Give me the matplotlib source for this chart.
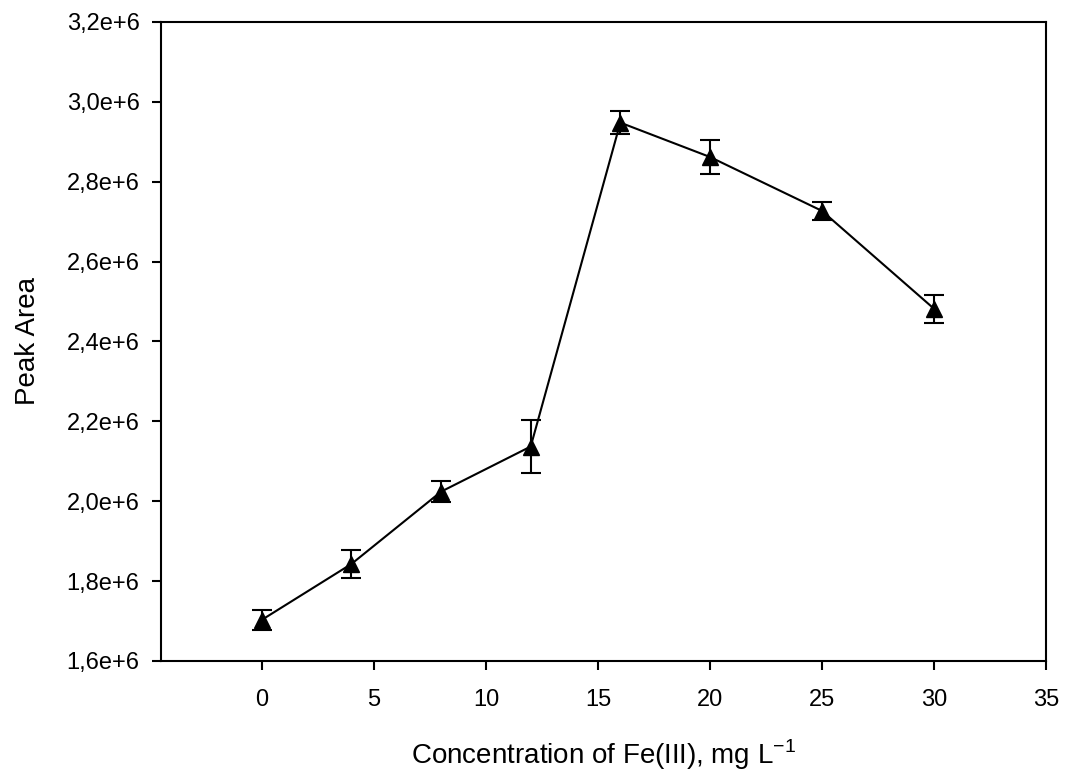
import matplotlib
matplotlib.use('Agg')
import matplotlib.pyplot as plt
from matplotlib.ticker import FuncFormatter, MultipleLocator

plt.rcParams['font.family'] = ['Liberation Sans', 'DejaVu Sans']

# concentration of Fe(III), mg/L
conc = [0, 4, 8, 12, 16, 20, 25, 30]
# peak area and its error
peak_area = [1.703e6, 1.843e6, 2.024e6, 2.137e6, 2.948e6, 2.862e6, 2.727e6, 2.482e6]
peak_err = [0.025e6, 0.035e6, 0.027e6, 0.066e6, 0.029e6, 0.042e6, 0.023e6, 0.035e6]


def sci_comma(v, pos):
    return ('%.1fe+6' % (v / 1e6)).replace('.', ',')


fig = plt.figure(figsize=(10.65, 7.8), dpi=100)
ax = fig.add_axes([0.1512, 0.1526, 0.8310, 0.8192])

ax.errorbar(conc, peak_area, yerr=peak_err, color='black', lw=1.5,
            marker='^', markersize=12, capsize=7, elinewidth=1.5, capthick=1.5)

ax.set_xlim(-4.5, 35)
ax.set_ylim(1.6e6, 3.2e6)
ax.xaxis.set_major_locator(MultipleLocator(5))
ax.yaxis.set_major_locator(MultipleLocator(0.2e6))
ax.yaxis.set_major_formatter(FuncFormatter(sci_comma))
ax.set_xticks(range(0, 36, 5))

for s in ax.spines.values():
    s.set_linewidth(1.5)
ax.tick_params(direction='out', length=6.5, width=1.5, labelsize=17)
ax.tick_params(axis='x', pad=14)
ax.tick_params(axis='y', pad=9)

ax.set_xlabel(r'Concentration of Fe(III), mg L$^{\mathregular{-1}}$', fontsize=20)
ax.set_ylabel('Peak Area', fontsize=20)
ax.xaxis.set_label_coords(0.5, -0.1205)
ax.yaxis.set_label_coords(-0.136, 0.5)

fig.savefig('out.png', dpi=100)
